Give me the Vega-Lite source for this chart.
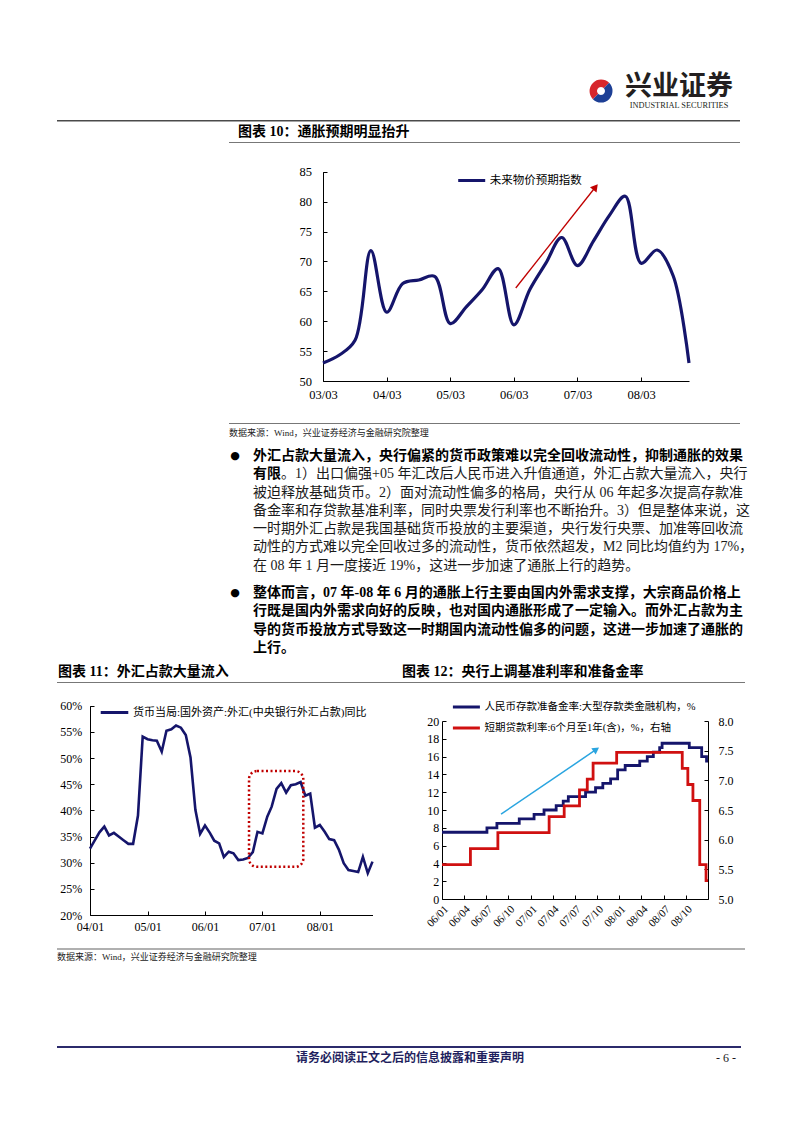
{
  "$schema": "https://vega.github.io/schema/vega-lite/v6.json",
  "background": "white",
  "padding": {"left": 57, "top": 0, "right": 0, "bottom": 0},
  "spacing": 0,
  "bounds": "full",
  "resolve": {"scale": {"color": "independent"}, "legend": {"color": "independent"}},
  "config": {
    "view": {"stroke": null},
    "axis": {"domainColor": "#000", "tickColor": "#000", "labelColor": "#000", "labelFont": "Liberation Serif", "grid": false, "domainWidth": 1, "tickWidth": 1},
    "legend": {"labelFont": "Liberation Serif, Noto Sans CJK SC", "labelColor": "#000"}
  },
  "vconcat": [
    {"width": 1, "height": 70, "data": {"values": []}, "mark": "point"},
    {"hconcat": [
      {"width": 532, "height": 42, "data": {"values": []}, "mark": "point"},
      {"width": 24, "height": 42, "data": {"values": [{}]}, "layer": [
        {"mark": {"type": "arc", "theta": -2.356, "theta2": 0.785, "radius": 11.5, "color": "#d7262c"}, "encoding": {}},
        {"mark": {"type": "arc", "theta": 0.785, "theta2": 3.927, "radius": 11.5, "color": "#1d3f95"}, "encoding": {}},
        {"mark": {"type": "arc", "theta": 0, "theta2": 6.283, "radius": 4, "color": "white"}, "encoding": {}}
      ]},
      {"width": 6, "height": 42, "data": {"values": []}, "mark": "point"},
      {"width": 120, "height": 42, "data": {"values": [{}]}, "layer": [
        {"mark": {"type": "text", "text": "兴业证券", "font": "Noto Sans CJK SC", "fontWeight": "bold", "fontSize": 27, "dy": -4.5, "color": "#231f20", "baseline": "middle", "align": "center"}, "encoding": {}},
        {"mark": {"type": "text", "text": "INDUSTRIAL SECURITIES", "font": "Liberation Serif", "fontSize": 8.3, "dy": 15, "color": "#231f20", "baseline": "middle", "align": "center"}, "encoding": {}}
      ]}
    ], "spacing": 0, "bounds": "flush"},
    {"width": 1, "height": 8, "data": {"values": []}, "mark": "point"},
    {"width": 683, "height": 1.5, "view": {"fill": "#4a4a4a", "stroke": null}, "data": {"values": []}, "mark": "point"},
    {"hconcat": [
      {"width": 181, "height": 20, "data": {"values": []}, "mark": "point"},
      {"width": 300, "height": 20, "data": {"values": [{"t": "图表 10：通胀预期明显抬升"}]},
       "mark": {"type": "text", "align": "left", "baseline": "middle", "font": "Liberation Serif, Noto Sans CJK SC", "fontSize": 14, "fontWeight": "bold", "color": "#000"},
       "encoding": {"text": {"field": "t"}, "x": {"datum": 0, "type": "quantitative", "scale": {"domain": [0, 1]}, "axis": null}}}
    ], "spacing": 0, "bounds": "flush"},
    {"hconcat": [
      {"width": 172, "height": 1, "data": {"values": []}, "mark": "point"},
      {"width": 511, "height": 1, "view": {"fill": "#777777", "stroke": null}, "data": {"values": []}, "mark": "point"}
    ], "spacing": 0, "bounds": "flush"},
    {"width": 1, "height": 19, "data": {"values": []}, "mark": "point"},
    {"hconcat": [
      {"width": 266, "height": 261, "data": {"values": []}, "mark": "point"},
      {"width": 366, "height": 219,
       "encoding": {
         "x": {"field": "date", "type": "temporal",
               "scale": {"domain": [{"year": 2003, "month": 3, "date": 1}, {"year": 2008, "month": 12, "date": 1}]},
               "axis": {"values": [{"year": 2003, "month": 3, "date": 1}, {"year": 2004, "month": 3, "date": 1}, {"year": 2005, "month": 3, "date": 1}, {"year": 2006, "month": 3, "date": 1}, {"year": 2007, "month": 3, "date": 1}, {"year": 2008, "month": 3, "date": 1}],
                        "format": "%y/%m", "title": null, "labelFlush": false, "labelOverlap": false, "tickSize": -4, "labelPadding": 11, "labelFontSize": 12.5}},
         "y": {"field": "v", "type": "quantitative", "scale": {"domain": [50, 85], "nice": false, "zero": false, "range": [219, 9.7]},
               "axis": {"values": [50, 55, 60, 65, 70, 75, 80, 85], "title": null, "tickSize": -4, "labelPadding": 15.6, "labelFontSize": 12.5}}
       },
       "layer": [
        {"data": {"values": [
          {"date": "2003/03/01", "v": 53.0}, {"date": "2003/06/01", "v": 54.3}, {"date": "2003/09/01", "v": 56.8}, {"date": "2003/12/01", "v": 71.8},
          {"date": "2004/03/01", "v": 61.5}, {"date": "2004/06/01", "v": 66.3}, {"date": "2004/09/01", "v": 66.9}, {"date": "2004/12/01", "v": 67.5},
          {"date": "2005/03/01", "v": 59.6}, {"date": "2005/06/01", "v": 62.4}, {"date": "2005/09/01", "v": 65.3}, {"date": "2005/12/01", "v": 68.8},
          {"date": "2006/03/01", "v": 59.4}, {"date": "2006/06/01", "v": 65.3}, {"date": "2006/09/01", "v": 69.7}, {"date": "2006/12/01", "v": 74.0},
          {"date": "2007/03/01", "v": 69.3}, {"date": "2007/06/01", "v": 73.4}, {"date": "2007/09/01", "v": 77.7}, {"date": "2007/12/01", "v": 80.9},
          {"date": "2008/03/01", "v": 69.7}, {"date": "2008/06/01", "v": 71.9}, {"date": "2008/09/01", "v": 67.6}, {"date": "2008/12/01", "v": 53.0}
        ]},
         "mark": {"type": "line", "interpolate": "catmull-rom", "strokeWidth": 3.2},
         "encoding": {
           "color": {"datum": "未来物价预期指数", "type": "nominal", "scale": {"range": ["#15156b"]},
                     "legend": {"orient": "none", "legendX": 133.7, "legendY": 3.5, "title": null, "symbolType": "stroke", "symbolStrokeWidth": 3, "symbolSize": 729, "labelFontSize": 11.5, "labelOffset": 3, "labelLimit": 400, "padding": 0}}
         }},
        {"data": {"values": [{"date": "2006/03/12", "v": 65.55, "date2": "2007/06/13", "v2": 82.44}]},
         "mark": {"type": "rule", "color": "#c00000", "strokeWidth": 1.3},
         "encoding": {"x2": {"field": "date2"}, "y2": {"field": "v2"}}},
        {"data": {"values": [{"date": "2007/06/13", "v": 82.44}]},
         "mark": {"type": "point", "shape": "triangle-up", "filled": true, "size": 70, "angle": 38.3, "color": "#c00000", "opacity": 1}}
      ]}
    ], "spacing": 0, "bounds": "flush", "resolve": {"scale": {"color": "independent"}, "legend": {"color": "independent"}}},
    {"hconcat": [
      {"width": 172, "height": 1, "data": {"values": []}, "mark": "point"},
      {"width": 511, "height": 1, "view": {"fill": "#777777", "stroke": null}, "data": {"values": []}, "mark": "point"}
    ], "spacing": 0, "bounds": "flush"},
    {"hconcat": [
      {"width": 172, "height": 23, "data": {"values": []}, "mark": "point"},
      {"width": 300, "height": 18, "data": {"values": [{"t": "数据来源：Wind，兴业证券经济与金融研究院整理"}]},
       "mark": {"type": "text", "align": "left", "baseline": "middle", "font": "Liberation Serif, Noto Sans CJK SC", "fontSize": 9, "color": "#222"},
       "encoding": {"text": {"field": "t"}, "x": {"datum": 0, "type": "quantitative", "scale": {"domain": [0, 1]}, "axis": null}}}
    ], "spacing": 0, "bounds": "flush"},
    {"hconcat": [
      {"width": 196, "height": 210, "data": {"values": []}, "mark": "point"},
      {"width": 492, "height": 210,
       "encoding": {
         "x": {"datum": 0, "type": "quantitative", "scale": {"domain": [0, 1]}, "axis": null},
         "y": {"field": "ln", "type": "quantitative", "scale": {"domain": [-0.5, 11], "reverse": true, "nice": false, "zero": false}, "axis": null}
       },
       "layer": [
        {"data": {"values": [{"ln": 0}, {"ln": 7.5}]},
         "mark": {"type": "text", "text": "●", "align": "center", "baseline": "middle", "fontSize": 11, "dx": -18, "color": "#000", "font": "DejaVu Sans"}},
        {"data": {"values": [
          {"ln": 0, "t": "外汇占款大量流入，央行偏紧的货币政策难以完全回收流动性，抑制通胀的效果"},
          {"ln": 1, "t": "有限"},
          {"ln": 7.5, "t": "整体而言，07 年-08 年 6 月的通胀上行主要由国内外需求支撑，大宗商品价格上"},
          {"ln": 8.5, "t": "行既是国内外需求向好的反映，也对国内通胀形成了一定输入。而外汇占款为主"},
          {"ln": 9.5, "t": "导的货币投放方式导致这一时期国内流动性偏多的问题，这进一步加速了通胀的"},
          {"ln": 10.5, "t": "上行。"}
        ]},
         "mark": {"type": "text", "align": "left", "baseline": "middle", "font": "Liberation Serif, Noto Sans CJK SC", "fontSize": 14, "fontWeight": "bold", "color": "#000"},
         "encoding": {"text": {"field": "t"}}},
        {"data": {"values": [
          {"ln": 2, "t": "被迫释放基础货币。2）面对流动性偏多的格局，央行从 06 年起多次提高存款准"},
          {"ln": 3, "t": "备金率和存贷款基准利率，同时央票发行利率也不断抬升。3）但是整体来说，这"},
          {"ln": 4, "t": "一时期外汇占款是我国基础货币投放的主要渠道，央行发行央票、加准等回收流"},
          {"ln": 5, "t": "动性的方式难以完全回收过多的流动性，货币依然超发，M2 同比均值约为 17%，"},
          {"ln": 6, "t": "在 08 年 1 月一度接近 19%，这进一步加速了通胀上行的趋势。"}
        ]},
         "mark": {"type": "text", "align": "left", "baseline": "middle", "font": "Liberation Serif, Noto Sans CJK SC", "fontSize": 14, "color": "#1a1a1a"},
         "encoding": {"text": {"field": "t"}}},
        {"data": {"values": [{"ln": 1, "t": "。1）出口偏强+05 年汇改后人民币进入升值通道，外汇占款大量流入，央行"}]},
         "mark": {"type": "text", "align": "left", "baseline": "middle", "font": "Liberation Serif, Noto Sans CJK SC", "fontSize": 14, "color": "#1a1a1a", "dx": 28},
         "encoding": {"text": {"field": "t"}}}
      ]}
    ], "spacing": 0, "bounds": "flush"},
    {"width": 1, "height": 5, "data": {"values": []}, "mark": "point"},
    {"hconcat": [
      {"width": 1, "height": 20, "data": {"values": []}, "mark": "point"},
      {"width": 343.7, "height": 20, "data": {"values": [{"t": "图表 11：外汇占款大量流入"}]},
       "mark": {"type": "text", "align": "left", "baseline": "middle", "font": "Liberation Serif, Noto Sans CJK SC", "fontSize": 14, "fontWeight": "bold", "color": "#000"},
       "encoding": {"text": {"field": "t"}, "x": {"datum": 0, "type": "quantitative", "scale": {"domain": [0, 1]}, "axis": null}}},
      {"width": 300, "height": 20, "data": {"values": [{"t": "图表 12：央行上调基准利率和准备金率"}]},
       "mark": {"type": "text", "align": "left", "baseline": "middle", "font": "Liberation Serif, Noto Sans CJK SC", "fontSize": 14, "fontWeight": "bold", "color": "#000"},
       "encoding": {"text": {"field": "t"}, "x": {"datum": 0, "type": "quantitative", "scale": {"domain": [0, 1]}, "axis": null}}}
    ], "spacing": 0, "bounds": "flush"},
    {"width": 688, "height": 1, "view": {"fill": "#777777", "stroke": null}, "data": {"values": []}, "mark": "point"},
    {"width": 1, "height": 7, "data": {"values": []}, "mark": "point"},
    {"hconcat": [
      {"width": 33, "height": 258, "data": {"values": []}, "mark": "point"},
      {"width": 282.5, "height": 225,
       "encoding": {
         "x": {"field": "date", "type": "temporal",
               "scale": {"domain": [{"year": 2004, "month": 1, "date": 1}, {"year": 2008, "month": 12, "date": 1}]},
               "axis": {"values": [{"year": 2004, "month": 1, "date": 1}, {"year": 2005, "month": 1, "date": 1}, {"year": 2006, "month": 1, "date": 1}, {"year": 2007, "month": 1, "date": 1}, {"year": 2008, "month": 1, "date": 1}],
                        "format": "%y/%m", "title": null, "labelFlush": false, "labelOverlap": false, "tickSize": -4, "labelPadding": 10, "labelFontSize": 12}},
         "y": {"field": "v", "type": "quantitative", "scale": {"domain": [20, 60], "nice": false, "zero": false, "range": [225, 15.7]},
               "axis": {"values": [20, 25, 30, 35, 40, 45, 50, 55, 60], "labelExpr": "datum.value + '%'", "title": null, "tickSize": -4, "labelPadding": 12.3, "labelFontSize": 12}}
       },
       "layer": [
        {"data": {"values": [
          {"date": "2004/01/01", "v": 32.7}, {"date": "2004/02/01", "v": 34.3}, {"date": "2004/03/01", "v": 35.8}, {"date": "2004/04/01", "v": 36.9},
          {"date": "2004/05/01", "v": 35.2}, {"date": "2004/06/01", "v": 35.7}, {"date": "2004/07/01", "v": 35.0}, {"date": "2004/08/01", "v": 34.3},
          {"date": "2004/09/01", "v": 33.6}, {"date": "2004/10/01", "v": 33.6}, {"date": "2004/11/01", "v": 39.0}, {"date": "2004/12/01", "v": 54.1},
          {"date": "2005/01/01", "v": 53.6}, {"date": "2005/02/01", "v": 53.4}, {"date": "2005/03/01", "v": 53.3}, {"date": "2005/04/01", "v": 51.2},
          {"date": "2005/05/01", "v": 55.2}, {"date": "2005/06/01", "v": 55.5}, {"date": "2005/07/01", "v": 56.2}, {"date": "2005/08/01", "v": 55.8},
          {"date": "2005/09/01", "v": 54.4}, {"date": "2005/10/01", "v": 50.1}, {"date": "2005/11/01", "v": 40.1}, {"date": "2005/12/01", "v": 35.5},
          {"date": "2006/01/01", "v": 37.1}, {"date": "2006/02/01", "v": 35.7}, {"date": "2006/03/01", "v": 34.2}, {"date": "2006/04/01", "v": 33.7},
          {"date": "2006/05/01", "v": 31.1}, {"date": "2006/06/01", "v": 32.1}, {"date": "2006/07/01", "v": 31.8}, {"date": "2006/08/01", "v": 30.5},
          {"date": "2006/09/01", "v": 30.6}, {"date": "2006/10/01", "v": 30.9}, {"date": "2006/11/01", "v": 32.0}, {"date": "2006/12/01", "v": 35.9},
          {"date": "2007/01/01", "v": 35.6}, {"date": "2007/02/01", "v": 38.8}, {"date": "2007/03/01", "v": 40.7}, {"date": "2007/04/01", "v": 44.1},
          {"date": "2007/05/01", "v": 45.2}, {"date": "2007/06/01", "v": 43.4}, {"date": "2007/07/01", "v": 44.8}, {"date": "2007/08/01", "v": 45.0},
          {"date": "2007/09/01", "v": 45.4}, {"date": "2007/10/01", "v": 42.8}, {"date": "2007/11/01", "v": 43.2}, {"date": "2007/12/01", "v": 36.7},
          {"date": "2008/01/01", "v": 37.2}, {"date": "2008/02/01", "v": 35.9}, {"date": "2008/03/01", "v": 34.5}, {"date": "2008/04/01", "v": 34.3},
          {"date": "2008/05/01", "v": 32.5}, {"date": "2008/06/01", "v": 29.9}, {"date": "2008/07/01", "v": 28.6}, {"date": "2008/08/01", "v": 28.4},
          {"date": "2008/09/01", "v": 28.2}, {"date": "2008/10/01", "v": 31.1}, {"date": "2008/11/01", "v": 28.0}, {"date": "2008/12/01", "v": 30.2}
        ]},
         "mark": {"type": "line", "strokeWidth": 2.6},
         "encoding": {
           "color": {"datum": "货币当局:国外资产:外汇(中央银行外汇占款)同比", "type": "nominal", "scale": {"range": ["#15156b"]},
                     "legend": {"orient": "none", "legendX": 9, "legendY": 7, "title": null, "symbolType": "stroke", "symbolStrokeWidth": 3, "symbolSize": 760, "labelFontSize": 11, "labelOffset": 3, "labelLimit": 400, "padding": 0}}
         }},
        {"data": {"values": [{"date": "2006/10/08", "date2": "2007/09/18", "v": 47.5, "v2": 29.2}]},
         "mark": {"type": "rect", "filled": false, "stroke": "#c00000", "strokeWidth": 2.5, "strokeDash": [2, 2.5], "cornerRadius": 8},
         "encoding": {"x2": {"field": "date2"}, "y2": {"field": "v2"}}}
      ]},
      {"width": 69, "height": 1, "data": {"values": []}, "mark": "point"},
      {"width": 266, "height": 209,
       "encoding": {
         "x": {"field": "date", "type": "temporal",
               "scale": {"domain": [{"year": 2006, "month": 1, "date": 1}, {"year": 2008, "month": 12, "date": 31}]},
               "axis": {"values": [{"year": 2006, "month": 1, "date": 1}, {"year": 2006, "month": 4, "date": 1}, {"year": 2006, "month": 7, "date": 1}, {"year": 2006, "month": 10, "date": 1}, {"year": 2007, "month": 1, "date": 1}, {"year": 2007, "month": 4, "date": 1}, {"year": 2007, "month": 7, "date": 1}, {"year": 2007, "month": 10, "date": 1}, {"year": 2008, "month": 1, "date": 1}, {"year": 2008, "month": 4, "date": 1}, {"year": 2008, "month": 7, "date": 1}, {"year": 2008, "month": 10, "date": 1}],
                        "format": "%y/%m", "title": null, "labelFlush": false, "labelOverlap": false, "labelAngle": -45, "tickSize": -4, "labelPadding": 8, "labelFontSize": 11}}
       },
       "layer": [
        {"encoding": {
           "y": {"field": "v", "type": "quantitative", "scale": {"domain": [0, 20], "nice": false, "range": [209, 31]},
                 "axis": {"orient": "left", "values": [0, 2, 4, 6, 8, 10, 12, 14, 16, 18, 20], "title": null, "tickSize": -4, "labelPadding": 7.3, "labelFontSize": 12}}
         },
         "layer": [
          {"data": {"values": [
            {"date": "2006/01/01", "v": 7.5}, {"date": "2006/07/05", "v": 8.0}, {"date": "2006/08/15", "v": 8.5}, {"date": "2006/11/15", "v": 9.0},
            {"date": "2007/01/15", "v": 9.5}, {"date": "2007/02/25", "v": 10.0}, {"date": "2007/04/16", "v": 10.5}, {"date": "2007/05/15", "v": 11.0},
            {"date": "2007/06/05", "v": 11.5}, {"date": "2007/08/15", "v": 12.0}, {"date": "2007/09/25", "v": 12.5}, {"date": "2007/10/25", "v": 13.0},
            {"date": "2007/11/26", "v": 13.5}, {"date": "2007/12/25", "v": 14.5}, {"date": "2008/01/25", "v": 15.0}, {"date": "2008/03/25", "v": 15.5},
            {"date": "2008/04/25", "v": 16.0}, {"date": "2008/05/20", "v": 16.5}, {"date": "2008/06/15", "v": 17.0}, {"date": "2008/06/25", "v": 17.5},
            {"date": "2008/10/15", "v": 17.0}, {"date": "2008/12/05", "v": 16.0}, {"date": "2008/12/25", "v": 15.5}, {"date": "2008/12/31", "v": 15.5}
          ]},
           "mark": {"type": "line", "interpolate": "step-after", "strokeWidth": 2.8},
           "encoding": {
             "color": {"datum": "人民币存款准备金率:大型存款类金融机构，%", "type": "nominal",
                       "scale": {"domain": ["人民币存款准备金率:大型存款类金融机构，%", "短期贷款利率:6个月至1年(含)，%，右轴"], "range": ["#15156b", "#d01010"]},
                       "legend": {"orient": "none", "legendX": 9.4, "legendY": 2, "title": null, "symbolType": "stroke", "symbolStrokeWidth": 3, "symbolSize": 729, "labelFontSize": 10.5, "labelOffset": 3, "labelLimit": 400, "padding": 0, "rowPadding": -9}}
           }},
          {"data": {"values": [{"date": "2006/09/01", "v": 9.53, "date2": "2007/09/28", "v2": 16.8}]},
           "mark": {"type": "rule", "color": "#2aa5e0", "strokeWidth": 1.5},
           "encoding": {"x2": {"field": "date2"}, "y2": {"field": "v2"}}},
          {"data": {"values": [{"date": "2007/09/28", "v": 16.8}]},
           "mark": {"type": "point", "shape": "triangle-up", "filled": true, "size": 60, "angle": 55.6, "color": "#2aa5e0", "opacity": 1}}
        ]},
        {"data": {"values": [
          {"date": "2006/01/01", "v": 5.58}, {"date": "2006/04/28", "v": 5.85}, {"date": "2006/08/19", "v": 6.12}, {"date": "2007/03/18", "v": 6.39},
          {"date": "2007/05/19", "v": 6.57}, {"date": "2007/07/21", "v": 6.84}, {"date": "2007/08/22", "v": 7.02}, {"date": "2007/09/15", "v": 7.29},
          {"date": "2007/12/21", "v": 7.47}, {"date": "2008/09/16", "v": 7.20}, {"date": "2008/10/09", "v": 6.93}, {"date": "2008/10/30", "v": 6.66},
          {"date": "2008/11/27", "v": 5.58}, {"date": "2008/12/23", "v": 5.31}, {"date": "2008/12/31", "v": 5.31}
        ]},
         "mark": {"type": "line", "interpolate": "step-after", "strokeWidth": 2.8},
         "encoding": {
           "y": {"field": "v", "type": "quantitative", "scale": {"domain": [5, 8], "nice": false, "zero": false, "range": [209, 31]},
                 "axis": {"orient": "right", "values": [5, 5.5, 6, 6.5, 7, 7.5, 8], "format": ".1f", "title": null, "tickSize": -4, "labelPadding": 14, "labelFontSize": 12}},
           "color": {"datum": "短期贷款利率:6个月至1年(含)，%，右轴", "type": "nominal",
                     "scale": {"domain": ["人民币存款准备金率:大型存款类金融机构，%", "短期贷款利率:6个月至1年(含)，%，右轴"], "range": ["#15156b", "#d01010"]},
                     "legend": {"orient": "none", "legendX": 9.4, "legendY": 2, "title": null, "symbolType": "stroke", "symbolStrokeWidth": 3, "symbolSize": 729, "labelFontSize": 10.5, "labelOffset": 3, "labelLimit": 400, "padding": 0, "rowPadding": -9}}
         }}
       ],
       "resolve": {"scale": {"y": "independent"}}}
    ], "spacing": 0, "bounds": "flush", "resolve": {"scale": {"color": "independent"}, "legend": {"color": "independent"}}},
    {"width": 688, "height": 2, "view": {"fill": "#b0b0b0", "stroke": null}, "data": {"values": []}, "mark": "point"},
    {"width": 300, "height": 14, "data": {"values": [{"t": "数据来源：Wind，兴业证券经济与金融研究院整理"}]},
     "mark": {"type": "text", "align": "left", "baseline": "middle", "font": "Liberation Serif, Noto Sans CJK SC", "fontSize": 9, "color": "#222"},
     "encoding": {"text": {"field": "t"}, "x": {"datum": 0, "type": "quantitative", "scale": {"domain": [0, 1]}, "axis": null}}},
    {"width": 1, "height": 82, "data": {"values": []}, "mark": "point"},
    {"width": 684, "height": 2, "view": {"fill": "#2b2a6b", "stroke": null}, "data": {"values": []}, "mark": "point"},
    {"hconcat": [
      {"width": 203, "height": 20, "data": {"values": []}, "mark": "point"},
      {"width": 300, "height": 20, "data": {"values": [{"t": "请务必阅读正文之后的信息披露和重要声明"}]},
       "mark": {"type": "text", "align": "center", "baseline": "middle", "font": "Noto Sans CJK SC", "fontSize": 12, "fontWeight": "bold", "color": "#1f1f5e"},
       "encoding": {"text": {"field": "t"}}},
      {"width": 150, "height": 20, "data": {"values": []}, "mark": "point"},
      {"width": 32, "height": 20, "data": {"values": [{"t": "- 6 -"}]},
       "mark": {"type": "text", "align": "center", "baseline": "middle", "font": "Liberation Serif", "fontSize": 12, "color": "#1a1a1a"},
       "encoding": {"text": {"field": "t"}}}
    ], "spacing": 0, "bounds": "flush"}
  ]
}
